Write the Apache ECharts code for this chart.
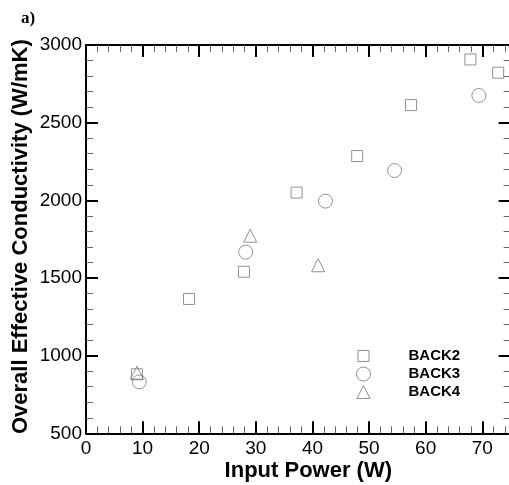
<!DOCTYPE html>
<html>
<head>
<meta charset="utf-8">
<script src="https://cdn.jsdelivr.net/npm/echarts@6/dist/echarts.min.js"></script>
<style>html,body{margin:0;padding:0;background:#fff}#c{width:509px;height:485px}</style>
</head>
<body>
<div id="c"></div>
<script>
// Data
const seriesNames = ['BACK2', 'BACK3', 'BACK4'];
const back2 = [[9.0, 880], [18.2, 1365], [27.9, 1540], [37.2, 2050], [47.9, 2285], [57.4, 2613], [67.9, 2907], [72.8, 2822]];
const back3 = [[9.4, 831], [28.2, 1666], [42.3, 1995], [54.5, 2192], [69.4, 2675]];
const back4 = [[9.0, 890], [29.0, 1772], [41.0, 1582]];
const xTicks = [0, 10, 20, 30, 40, 50, 60, 70];
const yTicks = [500, 1000, 1500, 2000, 2500, 3000];

const FONT = 'Liberation Sans, Arial, Helvetica, sans-serif';
const XMIN = 0, XMAX = 75, YMIN = 500, YMAX = 3000;
const symStroke = '#777777';

function axisCommon(showLabel) {
  return {
    axisLine: { show: true, onZero: false, lineStyle: { color: '#000', width: 2 } },
    axisTick: { show: true, inside: true, length: 12, lineStyle: { color: '#000', width: 2 } },
    minorTick: { show: true, splitNumber: 5, length: 7, lineStyle: { color: '#666', width: 1 } },
    splitLine: { show: false },
    axisLabel: { show: showLabel, color: '#000', fontFamily: FONT, fontSize: 19 }
  };
}

const xBase = { type: 'value', min: XMIN, max: XMAX, interval: 10 };
const yBase = { type: 'value', min: YMIN, max: YMAX, interval: 500 };

const syms = [
  { name: seriesNames[0], data: back2, symbol: 'rect', size: 11 },
  { name: seriesNames[1], data: back3, symbol: 'circle', size: 14 },
  { name: seriesNames[2], data: back4, symbol: 'triangle', size: 13 }
];
const legendRowsY = [356, 374, 392];
const legendIconX = 363, legendTextX = 408;
const symItemStyle = { color: 'rgba(0,0,0,0)', borderColor: symStroke, borderWidth: 1 };

const option = {
  animation: false,
  backgroundColor: '#fff',
  title: {
    text: 'a)', left: 16, top: 5,
    textStyle: { fontFamily: 'Liberation Serif, Times New Roman, serif', fontWeight: 'bold', fontSize: 17, color: '#000' }
  },
  grid: { left: 86, top: 45, right: -1.6, bottom: 51.7, containLabel: false, outerBoundsMode: 'none' },
  legend: syms.map((s, i) => ({
    data: [s.name],
    orient: 'vertical',
    left: legendIconX - s.size / 2,
    top: legendRowsY[i] - 9,
    padding: 0,
    itemWidth: s.size,
    itemHeight: s.size,
    selectedMode: false,
    itemStyle: Object.assign({}, symItemStyle),
    textStyle: {
      fontFamily: FONT, fontWeight: 'bold', fontSize: 15, color: '#000',
      height: 18, lineHeight: 18,
      padding: [0, 0, 0, legendTextX - (legendIconX + s.size / 2 + 5)]
    }
  })),
  xAxis: [
    Object.assign({}, xBase, axisCommon(true), {
      position: 'bottom',
      name: 'Input Power (W)', nameLocation: 'middle', nameGap: 27, nameMoveOverlap: false,
      nameTextStyle: { fontFamily: FONT, fontWeight: 'bold', fontSize: 22, color: '#000', padding: [0, 0, 0, 20] },
      axisLabel: { color: '#000', fontFamily: FONT, fontSize: 19, margin: 6,
        formatter: v => xTicks.includes(v) ? String(v) : '' }
    }),
    Object.assign({}, xBase, axisCommon(false), { position: 'top' })
  ],
  yAxis: [
    Object.assign({}, yBase, axisCommon(true), {
      position: 'left',
      name: 'Overall Effective Conductivity (W/mK)', nameLocation: 'middle', nameGap: 54, nameMoveOverlap: false,
      nameTextStyle: { fontFamily: FONT, fontWeight: 'bold', fontSize: 22, color: '#000', padding: [0, 0, 0, 5] },
      axisLabel: { color: '#000', fontFamily: FONT, fontSize: 19, margin: 4,
        formatter: v => yTicks.includes(v) ? String(v) : '' }
    }),
    Object.assign({}, yBase, axisCommon(false), { position: 'right' })
  ],
  series: syms.map(s => ({
    name: s.name,
    type: 'scatter',
    xAxisIndex: 0,
    yAxisIndex: 0,
    symbol: s.symbol,
    symbolSize: s.size,
    data: s.data,
    itemStyle: Object.assign({}, symItemStyle)
  }))
};

const chart = echarts.init(document.getElementById('c'), null, { renderer: 'canvas' });
chart.setOption(option);
</script>
</body>
</html>
